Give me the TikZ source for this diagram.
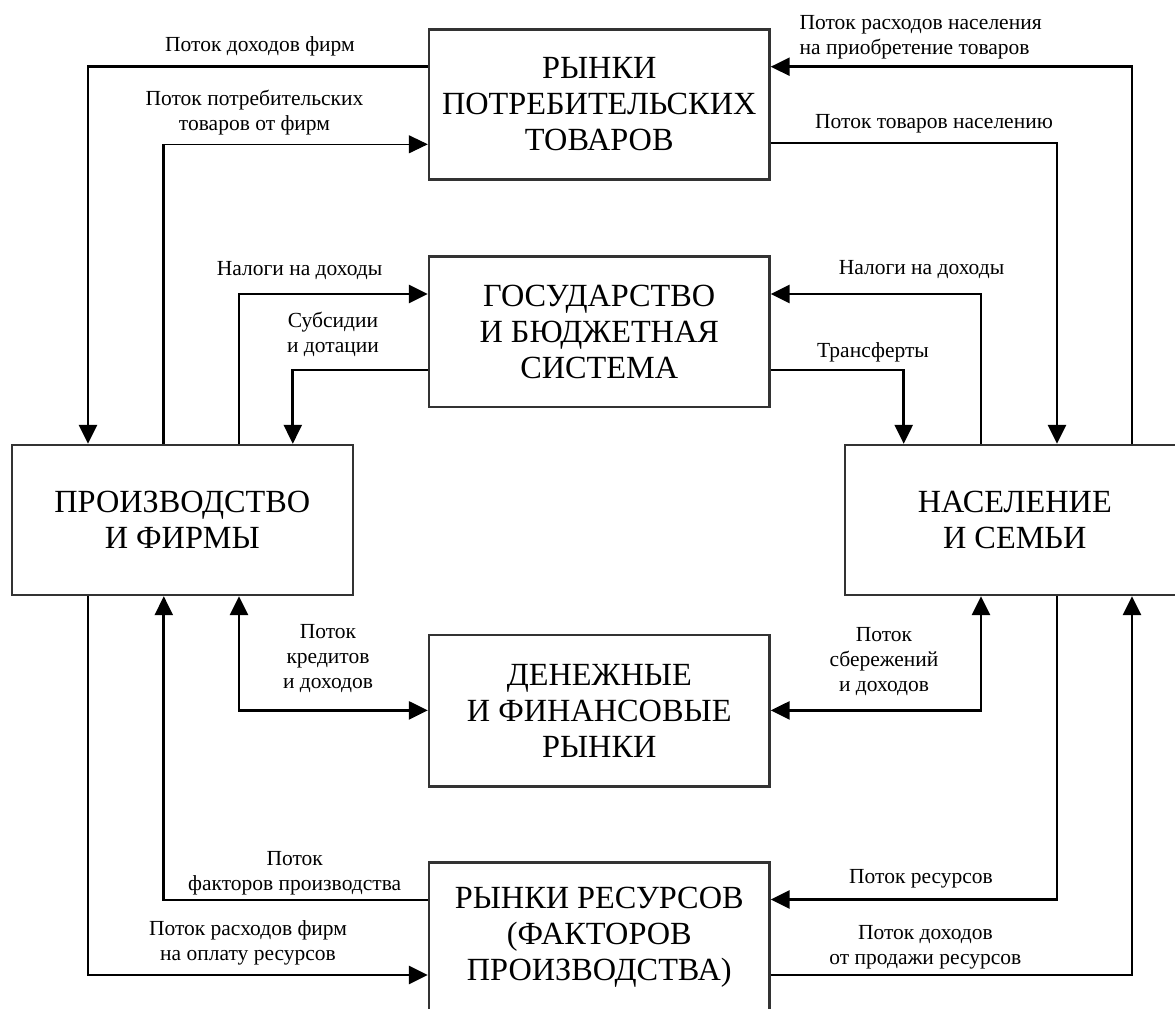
\documentclass[tikz,border=0pt]{standalone}
\usepackage{fontspec}
\setmainfont{Liberation Serif}
\usetikzlibrary{arrows.meta}
\begin{document}
\begin{tikzpicture}[x=1pt,y=-1pt,
  boxnode/.style={draw=black!80, line width=2.4pt, inner sep=0pt, minimum width=340.5pt, minimum height=150.5pt, align=center, font=\fontsize{32.3}{36}\selectfont},
  lbl/.style={inner sep=0pt, align=center, font=\fontsize{21.5}{25}\selectfont},
  seg/.style={line width=2.7pt},
  conn/.style={line width=2.7pt, -{Triangle[length=19pt,width=18pt]}},
  conntwo/.style={line width=2.7pt, {Triangle[length=19pt,width=18pt]}-{Triangle[length=19pt,width=18pt]}}
]
\useasboundingbox[fill=white] (0,0) rectangle (1175,1009);

% boxes
\node[boxnode, minimum height=150pt] (CG)  at (599.25,104.3) {РЫНКИ\\ПОТРЕБИТЕЛЬСКИХ\\ТОВАРОВ};
\node[boxnode] (GOV) at (599.25,331.75) {ГОСУДАРСТВО\\И БЮДЖЕТНАЯ\\СИСТЕМА};
\node[boxnode, minimum width=340.7pt, minimum height=150pt] (PF) at (182.35,520) {ПРОИЗВОДСТВО\\И ФИРМЫ};
\node[boxnode, minimum width=339pt, minimum height=150pt] (HH) at (1014.75,520) {НАСЕЛЕНИЕ\\И СЕМЬИ};
\node[boxnode, minimum height=151.6pt] (DF) at (599.25,710.8) {ДЕНЕЖНЫЕ\\И ФИНАНСОВЫЕ\\РЫНКИ};
\node[boxnode, minimum height=150pt] (RR) at (599.25,937.5) {РЫНКИ РЕСУРСОВ\\(ФАКТОРОВ\\ПРОИЗВОДСТВА)};

% corner coordinates
\coordinate (k1) at (88,66.7);
\coordinate (k2) at (163.8,144.3);
\coordinate (k3) at (239,294);
\coordinate (k4) at (292.8,370);
\coordinate (k5) at (1132,66.7);
\coordinate (k6) at (1057,143);
\coordinate (k7) at (981,294);
\coordinate (k8) at (903.7,370);
\coordinate (k9) at (239,710.4);
\coordinate (k10) at (981,710.4);
\coordinate (k11) at (163.8,900);
\coordinate (k12) at (88,975);
\coordinate (k13) at (1057,899.5);
\coordinate (k14) at (1132,975);

% connectors
\draw[conn] (CG.west |- k1) -- (k1) -- (PF.north -| k1);
\draw[seg] (PF.north -| k2) -- (k2);
\draw[conn, line width=1.1pt] (k2) -- (CG.west |- k2);
\draw[conn] (PF.north -| k3) -- (k3) -- (GOV.west |- k3);
\draw[conn] (GOV.west |- k4) -- (k4) -- (PF.north -| k4);
\draw[conn] (HH.north -| k5) -- (k5) -- (CG.east |- k5);
\draw[conn] (CG.east |- k6) -- (k6) -- (HH.north -| k6);
\draw[conn] (HH.north -| k7) -- (k7) -- (GOV.east |- k7);
\draw[conn] (GOV.east |- k8) -- (k8) -- (HH.north -| k8);
\draw[conntwo] (PF.south -| k9) -- (k9) -- (DF.west |- k9);
\draw[conntwo] (HH.south -| k10) -- (k10) -- (DF.east |- k10);
\draw[conn] (RR.west |- k11) -- (k11) -- (PF.south -| k11);
\draw[conn] (PF.south -| k12) -- (k12) -- (RR.west |- k12);
\draw[conn] (HH.south -| k13) -- (k13) -- (RR.east |- k13);
\draw[conn] (RR.east |- k14) -- (k14) -- (HH.south -| k14);

% labels
\node[lbl] (l1) at (260,46.7) {Поток доходов фирм};
\node[lbl] (l2) at (254.5,113) {Поток потребительских\\товаров от фирм};
\node[lbl] (l3) at (299.6,270.7) {Налоги на доходы};
\node[lbl] (l4) at (333,334.2) {Субсидии\\и дотации};
\node[lbl, anchor=west, align=left] (l5) at (799.4,37.5) {Поток расходов населения\\на приобретение товаров};
\node[lbl] (l6) at (934,124) {Поток товаров населению};
\node[lbl] (l7) at (921.5,269.3) {Налоги на доходы};
\node[lbl] (l8) at (873,352.7) {Трансферты};
\node[lbl] (l9) at (328,658.3) {Поток\\кредитов\\и доходов};
\node[lbl] (l10) at (884,661.9) {Поток\\сбережений\\и доходов};
\node[lbl] (l11) at (294.7,872.8) {Поток\\факторов производства};
\node[lbl] (l12) at (248,942.7) {Поток расходов фирм\\на оплату ресурсов};
\node[lbl] (l13) at (921,879.2) {Поток ресурсов};
\node[lbl] (l14) at (925.4,947.6) {Поток доходов\\от продажи ресурсов};
\end{tikzpicture}
\end{document}
